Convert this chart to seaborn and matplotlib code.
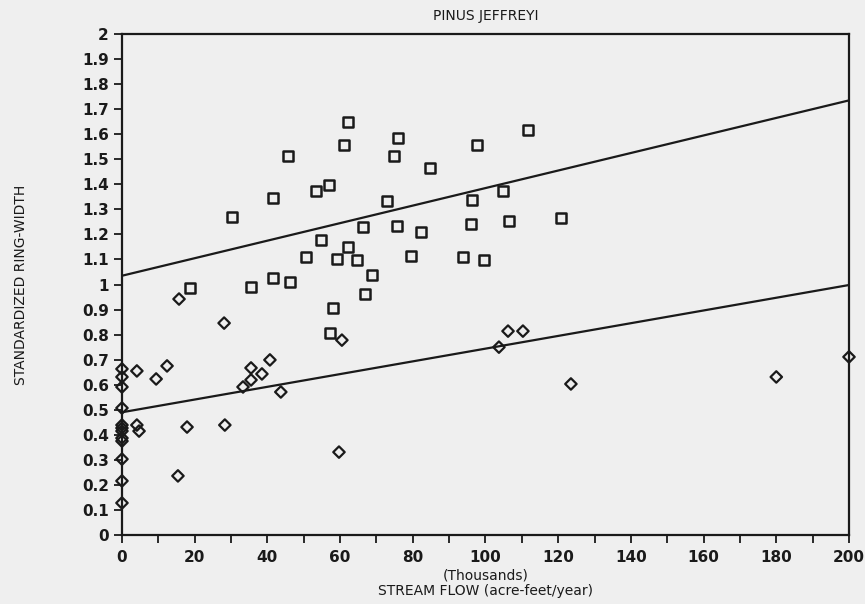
import numpy as np
import pandas as pd
import seaborn as sns
from matplotlib import pyplot as plt
from matplotlib.ticker import MultipleLocator

# stream flow (thousands of acre-feet/year) and standardized ring-width
square_x = [18.7, 30.3, 35.5, 41.5, 41.5, 45.7, 46.2, 50.6, 53.4, 54.7,
            57.0, 58.0, 57.2, 59.1, 61.1, 62.2, 62.2, 64.6, 66.3, 66.9,
            68.8, 72.9, 74.8, 75.9, 75.6, 79.5, 82.3, 84.7, 93.8, 96.3,
            96.0, 97.7, 99.6, 104.8, 106.5, 111.7, 120.8]
square_y = [0.986, 1.27, 0.99, 1.345, 1.026, 1.513, 1.01, 1.11, 1.373, 1.178,
            1.397, 0.906, 0.806, 1.10, 1.557, 1.649, 1.15, 1.098, 1.23, 0.962,
            1.038, 1.333, 1.513, 1.585, 1.234, 1.114, 1.21, 1.465, 1.11, 1.337,
            1.242, 1.557, 1.098, 1.373, 1.253, 1.617, 1.265]

diamond_x = [0, 0, 0, 0, 0, 0, 0, 0, 0, 0, 0, 0,
             4.1, 9.4, 12.4, 4.1, 4.7, 15.7, 17.9, 15.4, 28.1, 28.3,
             33.3, 35.5, 35.5, 38.5, 40.7, 43.7, 60.5, 59.7, 103.7, 106.2,
             110.3, 123.5, 180.0, 200.0]
diamond_y = [0.663, 0.631, 0.591, 0.507, 0.439, 0.427, 0.415, 0.387, 0.375,
             0.303, 0.216, 0.128,
             0.655, 0.623, 0.675, 0.439, 0.415, 0.942, 0.431, 0.236, 0.846, 0.439,
             0.591, 0.619, 0.667, 0.643, 0.699, 0.571, 0.778, 0.331, 0.750, 0.814,
             0.814, 0.603, 0.631, 0.711]

# regression lines
fit_x = [0, 200]
upper_fit = [1.035, 1.735]
lower_fit = [0.49, 0.998]

sns.set_style('ticks')
plt.rcParams['font.family'] = ['DejaVu Sans']

paper = '#efefef'
ink = '#1a1a1a'
fig = plt.figure(figsize=(8.65, 6.04), dpi=100, facecolor=paper)
ax = fig.add_axes([0.141, 0.1142, 0.8405, 0.8295])
ax.set_facecolor(paper)

sq = pd.DataFrame({'flow': square_x, 'width': square_y})
dm = pd.DataFrame({'flow': diamond_x, 'width': diamond_y})

sns.scatterplot(data=sq, x='flow', y='width', marker='s', s=52,
                facecolor='none', edgecolor=ink, linewidth=1.8, ax=ax,
                clip_on=False, zorder=3)
sns.scatterplot(data=dm, x='flow', y='width', marker='D', s=34,
                facecolor='none', edgecolor=ink, linewidth=1.6, ax=ax,
                clip_on=False, zorder=3)

sns.lineplot(x=fit_x, y=upper_fit, color=ink, linewidth=1.6, ax=ax)
sns.lineplot(x=fit_x, y=lower_fit, color=ink, linewidth=1.6, ax=ax)

ax.set_xlim(0, 200)
ax.set_ylim(0, 2)
ax.xaxis.set_major_locator(MultipleLocator(20))
ax.xaxis.set_minor_locator(MultipleLocator(10))
ax.yaxis.set_major_locator(MultipleLocator(0.1))
ax.set_yticklabels(['0' if abs(v) < 1e-9 else ('%g' % round(v, 1))
                    for v in ax.get_yticks()])
ax.tick_params(axis='both', which='both', direction='out', length=6,
               width=1.3, color=ink, labelsize=11, labelcolor=ink)
ax.tick_params(axis='x', pad=5)
for t in ax.get_xticklabels() + ax.get_yticklabels():
    t.set_fontweight('bold')
for s in ax.spines.values():
    s.set_visible(True)
    s.set_linewidth(1.6)
    s.set_color(ink)

ax.set_title('PINUS JEFFREYI', fontsize=10, color=ink, pad=10)
ax.set_xlabel('(Thousands)\nSTREAM FLOW (acre-feet/year)', fontsize=10,
              color=ink, labelpad=2, linespacing=1.2)
ax.set_ylabel('STANDARDIZED RING-WIDTH', fontsize=10, color=ink,
              labelpad=39)

fig.savefig('out.png', dpi=100, facecolor=paper)
